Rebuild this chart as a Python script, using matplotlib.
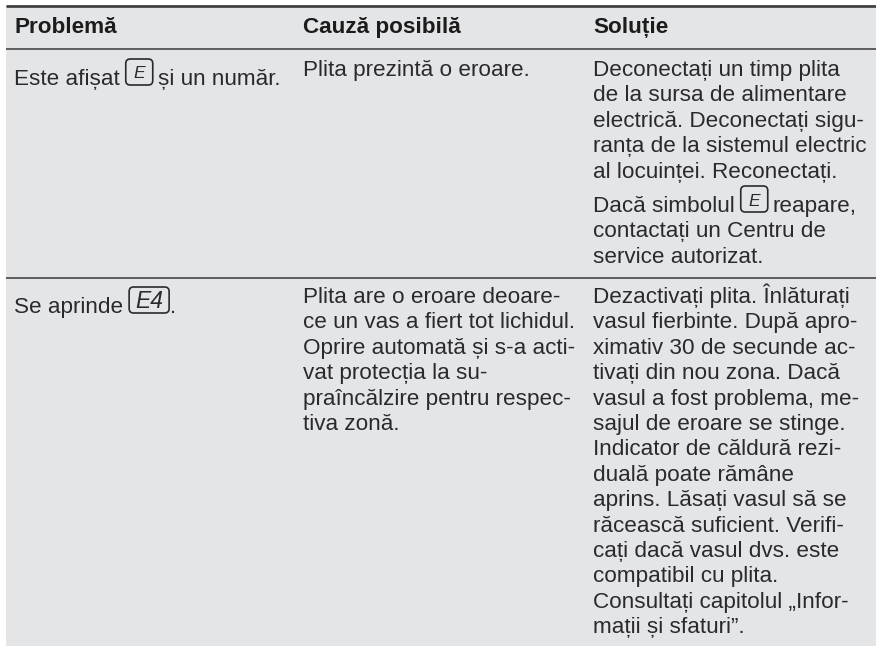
import matplotlib
matplotlib.use("Agg")
import matplotlib.pyplot as plt
from matplotlib.patches import FancyBboxPatch, Rectangle

headers = ["Problemă", "Cauză posibilă", "Soluție"]

row1_problem = [("Este afișat", "E", "și un număr.")]
row1_cause = ["Plita prezintă o eroare."]
row1_solution_a = ["Deconectați un timp plita", "de la sursa de alimentare",
                   "electrică. Deconectați sigu-", "ranța de la sistemul electric",
                   "al locuinței. Reconectați."]
row1_solution_b = [("Dacă simbolul", "E", "reapare,"),
                   "contactați un Centru de", "service autorizat."]

row2_problem = [("Se aprinde", "E4", ".")]
row2_cause = ["Plita are o eroare deoare-", "ce un vas a fiert tot lichidul.",
              "Oprire automată și s-a acti-", "vat protecția la su-",
              "praîncălzire pentru respec-", "tiva zonă."]
row2_solution = ["Dezactivați plita. Înlăturați", "vasul fierbinte. După apro-",
                 "ximativ 30 de secunde ac-", "tivați din nou zona. Dacă",
                 "vasul a fost problema, me-", "sajul de eroare se stinge.",
                 "Indicator de căldură rezi-", "duală poate rămâne",
                 "aprins. Lăsați vasul să se", "răcească suficient. Verifi-",
                 "cați dacă vasul dvs. este", "compatibil cu plita.",
                 "Consultați capitolul „Infor-", "mații și sfaturi”."]

W, H = 876, 646
BG, INK = "#e4e5e7", "#2a2a2c"
FS = 16.2
LH = 25.4
COLS = [14, 303, 593]

plt.rcParams["font.family"] = ["Liberation Sans", "DejaVu Sans"]
fig = plt.figure(figsize=(W / 100, H / 100), dpi=100)
ax = fig.add_axes([0, 0, 1, 1])
ax.set_xlim(0, W)
ax.set_ylim(H, 0)
ax.axis("off")
ax.add_patch(Rectangle((6, 5), W - 6, H - 5, fc=BG, ec="none"))
ax.plot([6, W], [5.5, 5.5], color="#3a3a3c", lw=1.9, solid_capstyle="butt")
for y in (48.5, 277.5):
    ax.plot([6, W], [y, y], color="#3a3a3c", lw=1.1, solid_capstyle="butt")

renderer = fig.canvas.get_renderer()


def txt(x, y, s, **kw):
    return ax.text(x, y, s, fontsize=FS, color=INK, va="baseline", ha="left", **kw)


def advance(t):
    return t.get_window_extent(renderer).x1


def icon(x, base, code):
    w = 27 if len(code) == 1 else 40
    ax.add_patch(FancyBboxPatch((x, base - 26), w, 26,
                                boxstyle="round,pad=0,rounding_size=4.5",
                                fc="none", ec=INK, lw=1.2, mutation_aspect=1))
    size = 12.5 if len(code) == 1 else 16.5
    drop = 6.5 if len(code) == 1 else 4.5
    ax.text(x + w / 2, base - drop, code, fontsize=size, color=INK, ha="center",
            va="baseline", style="italic", family="Liberation Sans")
    return x + w


def line(x, base, item):
    if isinstance(item, tuple):
        before, code, after = item
        t = txt(x, base, before)
        nx = icon(advance(t) + 6, base, code)
        txt(nx + (1 if after == "." else 5), base, after)
    else:
        txt(x, base, item)


def block(x, base, items):
    for i, it in enumerate(items):
        line(x, base + i * LH, it)


for x, h in zip(COLS, headers):
    ax.text(x, 33, h, fontsize=FS, color="#1c1c1c", fontweight="bold",
            va="baseline", ha="left")

block(COLS[0], 85, row1_problem)
block(COLS[1], 76, row1_cause)
block(COLS[2], 76, row1_solution_a)
block(COLS[2], 212, row1_solution_b)
block(COLS[0], 313, row2_problem)
block(COLS[1], 303, row2_cause)
block(COLS[2], 303, row2_solution)

fig.savefig("out.png", dpi=100, facecolor="white")
